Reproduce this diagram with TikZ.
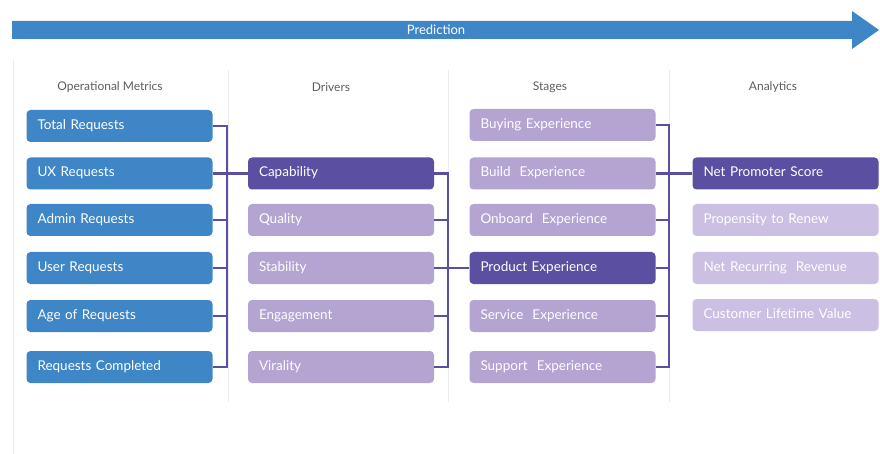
\documentclass[tikz,border=0pt]{standalone}
\usepackage{fontspec}
\setmainfont{Lato}

\definecolor{metricblue}{HTML}{3F86C7}
\definecolor{darkviolet}{HTML}{5A4FA1}
\definecolor{lightviolet}{HTML}{B3A4D2}
\definecolor{paleviolet}{HTML}{CBBFE3}
\definecolor{rulegray}{HTML}{EBEBF0}
\definecolor{headgray}{HTML}{5E5E5E}

\begin{document}
\begin{tikzpicture}[
	x = 1pt,
	y = -1pt,
	box/.style = {
		rounded corners = 4pt,
		minimum height = 32pt,
		minimum width = 186pt,
		text width = 164pt,
		text height = 9.5pt,
		text depth = 2.5pt,
		inner xsep = 11pt,
		align = left,
		text = white,
		font = \fontsize{13.5}{15}\selectfont
	},
	metric/.style = {box, fill = metricblue},
	keybox/.style = {box, fill = darkviolet},
	softbox/.style = {box, fill = lightviolet},
	paledbox/.style = {box, fill = paleviolet},
	heading/.style = {text = headgray, font = \fontsize{12}{14}\selectfont},
	link/.style = {draw = darkviolet, line width = 2.4pt},
	rule/.style = {draw = rulegray, line width = 1pt}
	]
	\useasboundingbox (0,0) rectangle (880,454);

	% column rules
	\draw[rule] (13,60) -- (13,454);
	\draw[rule] (228,70) -- (228,402);
	\draw[rule] (448,70) -- (448,402);
	\draw[rule] (669,70) -- (669,402);

	% prediction arrow
	\fill[metricblue] (12,21) -- (852,21) -- (852,11) -- (879,30) -- (852,49) -- (852,39) -- (12,39) -- cycle;
	\node[text = white, font = \fontsize{13}{15}\selectfont] (prediction) at (436,30) {Prediction};

	% headings
	\node[heading] (hmetrics) at (110,87) {Operational Metrics};
	\node[heading] (hdrivers) at (331,87) {Drivers};
	\node[heading] (hstages) at (550,87) {Stages};
	\node[heading] (hanalytics) at (773,87) {Analytics};

	% operational metrics
	\node[metric] (total) at (119.5,126) {Total Requests};
	\node[metric] (ux) at (119.5,173.5) {UX Requests};
	\node[metric] (admin) at (119.5,220) {Admin Requests};
	\node[metric] (user) at (119.5,268) {User Requests};
	\node[metric] (age) at (119.5,316) {Age of Requests};
	\node[metric] (done) at (119.5,367) {Requests Completed};

	% drivers
	\node[keybox] (capability) at (341,173.5) {Capability};
	\node[softbox] (quality) at (341,220) {Quality};
	\node[softbox] (stability) at (341,268) {Stability};
	\node[softbox] (engagement) at (341,316) {Engagement};
	\node[softbox] (virality) at (341,367) {Virality};

	% stages
	\node[softbox] (buying) at (562.5,125) {Buying Experience};
	\node[softbox] (build) at (562.5,173.5) {Build \ Experience};
	\node[softbox] (onboard) at (562.5,220) {Onboard \ Experience};
	\node[keybox] (product) at (562.5,268) {Product Experience};
	\node[softbox] (service) at (562.5,316) {Service \ Experience};
	\node[softbox] (support) at (562.5,367) {Support \ Experience};

	% analytics
	\node[keybox] (nps) at (785.5,173.5) {Net Promoter Score};
	\node[paledbox] (renew) at (785.5,220) {Propensity to Renew};
	\node[paledbox] (revenue) at (785.5,268) {Net Recurring \ Revenue};
	\node[paledbox] (lifetime) at (785.5,315) {Customer Lifetime Value};

	% buses
	\coordinate (bus1) at (227,0);
	\coordinate (bus2) at (448,0);
	\coordinate (bus3) at (669,0);

	\draw[link] (total.east) -- (total.east -| bus1) -- (done.east -| bus1) -- (done.east);
	\draw[link] (ux.east) -- (capability.west);
	\draw[link] (admin.east) -- (admin.east -| bus1);
	\draw[link] (user.east) -- (user.east -| bus1);
	\draw[link] (age.east) -- (age.east -| bus1);

	\draw[link] (capability.east) -- (capability.east -| bus2) -- (virality.east -| bus2) -- (virality.east);
	\draw[link] (stability.east) -- (product.west);
	\draw[link] (quality.east) -- (quality.east -| bus2);
	\draw[link] (engagement.east) -- (engagement.east -| bus2);

	\draw[link] (buying.east) -- (buying.east -| bus3) -- (support.east -| bus3) -- (support.east);
	\draw[link] (build.east) -- (nps.west);
	\draw[link] (onboard.east) -- (onboard.east -| bus3);
	\draw[link] (product.east) -- (product.east -| bus3);
	\draw[link] (service.east) -- (service.east -| bus3);
\end{tikzpicture}
\end{document}
